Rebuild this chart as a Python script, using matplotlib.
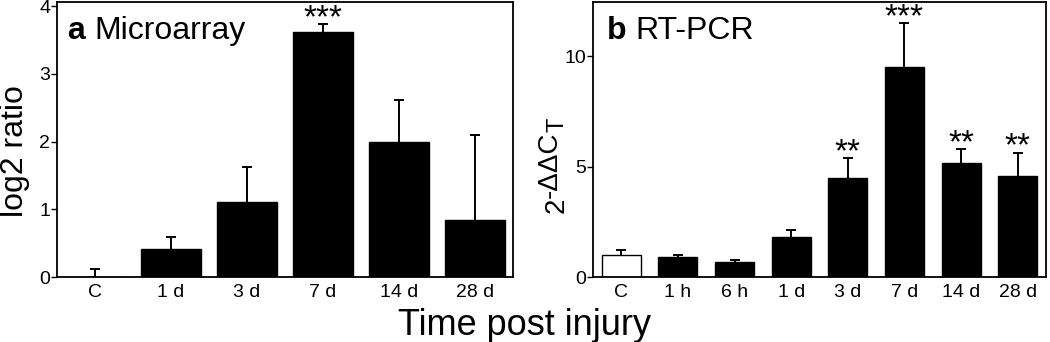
import matplotlib
matplotlib.use("Agg")
import matplotlib.pyplot as plt
import numpy as np

plt.rcParams['font.family'] = ['Liberation Sans', 'DejaVu Sans']

# Panel a: Microarray
a_labels = ["C", "1 d", "3 d", "7 d", "14 d", "28 d"]
a_values = [0.0, 0.42, 1.10, 3.62, 2.00, 0.84]
a_err_top = [0.12, 0.59, 1.62, 3.73, 2.61, 2.09]
a_stars = ["", "", "", "***", "", ""]

# Panel b: RT-PCR
b_labels = ["C", "1 h", "6 h", "1 d", "3 d", "7 d", "14 d", "28 d"]
b_values = [1.01, 0.90, 0.69, 1.79, 4.49, 9.52, 5.14, 4.58]
b_err_top = [1.21, 1.01, 0.77, 2.11, 5.38, 11.49, 5.78, 5.63]
b_stars = ["", "", "", "", "**", "***", "**", "**"]
b_colors = ["white", "black", "black", "black", "black", "black", "black", "black"]

W, H = 1050, 342
fig = plt.figure(figsize=(W/100, H/100), dpi=100)
axa = fig.add_axes([57/W, 1-277/H, (513-57)/W, 275/H])
axb = fig.add_axes([593/W, 1-277/H, (1046-593)/W, 275/H])

def draw(ax, labels, vals, errtop, stars, colors, width, ylim, yticks, ystar_off):
    x = np.arange(len(labels))
    ax.bar(x, vals, width=width, color=colors, edgecolor='black', linewidth=1.0, zorder=2)
    err = np.array(errtop) - np.array(vals)
    _, caps, _ = ax.errorbar(x, vals, yerr=[np.zeros_like(err), err], fmt='none', ecolor='black',
                             elinewidth=1.4, capsize=3.5, capthick=1.4, zorder=1)
    caps[0].set_visible(False)
    for xi, s, e in zip(x, stars, errtop):
        if s:
            ax.text(xi, e + ystar_off, s, ha='center', va='bottom', fontsize=24)
    ax.set_xlim(-0.5, len(labels) - 0.5)
    ax.set_ylim(*ylim)
    ax.set_yticks(yticks)
    ax.set_xticks(x)
    ax.set_xticklabels(labels, fontsize=14)
    ax.tick_params(axis='x', length=0, pad=5)
    ax.tick_params(axis='y', length=4, width=1, labelsize=14, pad=1)
    for sp in ax.spines.values():
        sp.set_linewidth(1.3)

draw(axa, a_labels, a_values, a_err_top, a_stars, "black", 0.78, (0, 4.06), [0, 1, 2, 3, 4], -0.14)
draw(axb, b_labels, b_values, b_err_top, b_stars, b_colors, 0.69, (0, 12.45), [0, 5, 10], -0.45)

def vtext(px, py, s, size):
    fig.text(px/W, 1-py/H, s, rotation=90, rotation_mode='anchor',
             ha='left', va='baseline', fontsize=size)

# y-axis titles (rotated text placed by pixel anchor)
vtext(23, 217, "log2 ratio", 23)
vtext(564, 213, "2", 20)
vtext(557, 198, "-\u0394\u0394C", 20)
vtext(564, 132, "T", 17)

axa.text(0.022, 0.865, "a", transform=axa.transAxes, fontsize=23, fontweight='bold', va='baseline')
axa.text(0.083, 0.865, "Microarray", transform=axa.transAxes, fontsize=23, va='baseline')
axb.text(0.031, 0.865, "b", transform=axb.transAxes, fontsize=23, fontweight='bold', va='baseline')
axb.text(0.093, 0.865, "RT-PCR", transform=axb.transAxes, fontsize=23, va='baseline')

fig.text(525/W, 1-335/H, "Time post injury", ha='center', va='baseline', fontsize=26)

fig.savefig("out.png", dpi=100)
